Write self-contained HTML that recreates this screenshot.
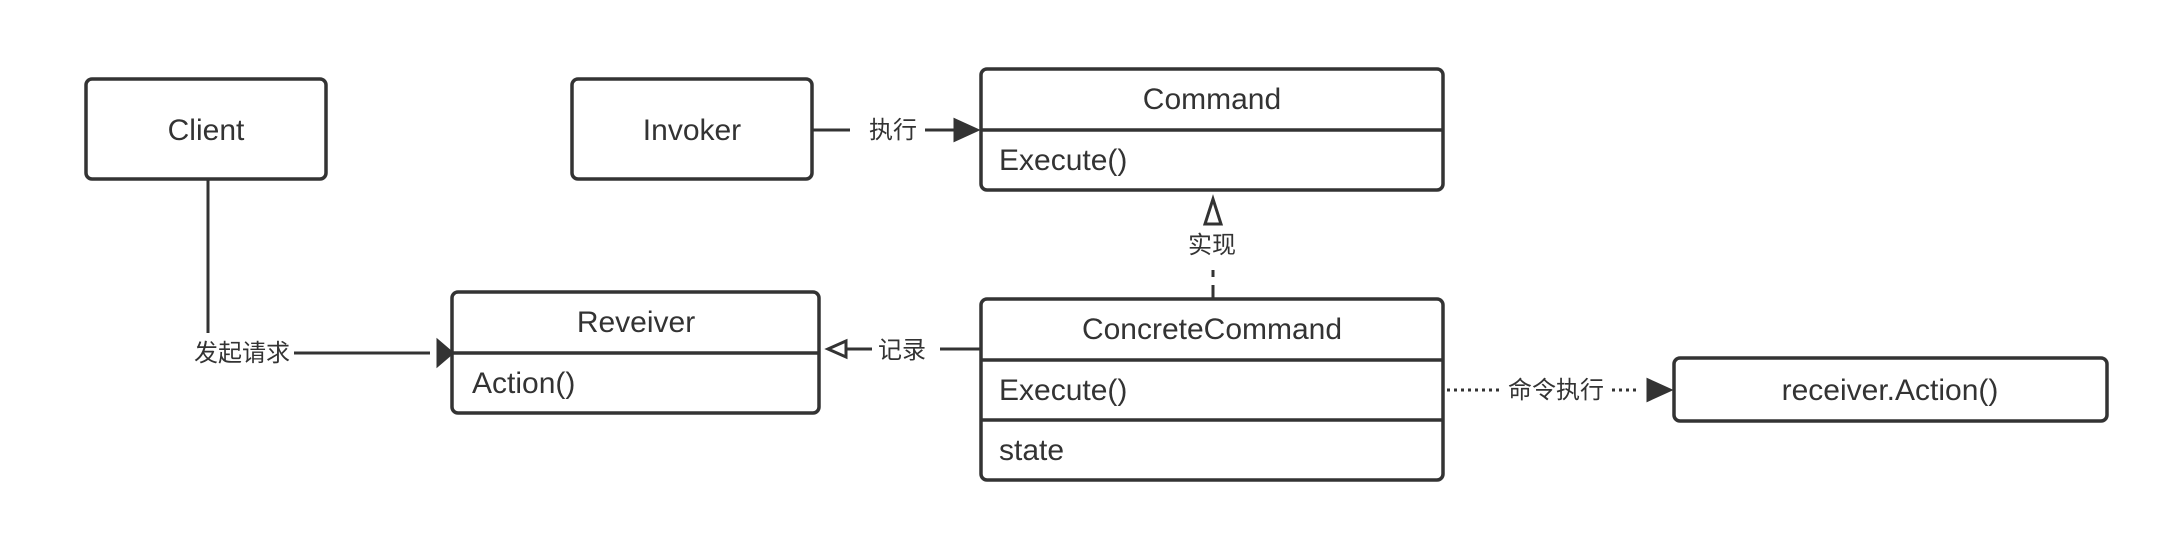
<!DOCTYPE html>
<html><head><meta charset="utf-8"><style>
body{margin:0;background:#fff;}
svg text{font-family:"Liberation Sans","Noto Sans CJK SC",sans-serif;fill:#333;}
</style></head><body>
<svg width="2162" height="532" viewBox="0 0 2162 532" xmlns="http://www.w3.org/2000/svg">
<defs>
<marker id="fill" markerWidth="12" markerHeight="12" refX="11" refY="6" orient="auto" markerUnits="userSpaceOnUse"><path d="M0,0 L12,6 L0,12 z" fill="#333"/></marker>
</defs>
<g fill="#fff" stroke="#333" stroke-width="3.5">
<rect x="86" y="79" width="240" height="100" rx="6"/>
<rect x="572" y="79" width="240" height="100" rx="6"/>
<rect x="981" y="69" width="462" height="121" rx="6"/>
<line x1="981" y1="130" x2="1443" y2="130"/>
<rect x="452" y="292" width="367" height="121" rx="6"/>
<line x1="452" y1="353" x2="819" y2="353"/>
<rect x="981" y="299" width="462" height="181" rx="6"/>
<line x1="981" y1="360" x2="1443" y2="360"/>
<line x1="981" y1="420" x2="1443" y2="420"/>
<rect x="1674" y="358" width="433" height="63" rx="6"/>
</g>
<g stroke="#333" stroke-width="3" fill="none">
<path d="M208 179 V333"/>
<path d="M294 353 H430"/>
<path d="M438 341 L452 353 L438 365 z" fill="#333"/>
<path d="M812 130 H850"/><path d="M925 130 H955"/>
<path d="M955 120 L977 130 L955 140 z" fill="#333"/>
<path d="M1213 299 V270" stroke-dasharray="14,8"/>
<path d="M1213 222 V210"/>
<path d="M1205 224 L1213 199 L1221 224 z" fill="#fff"/>
<path d="M981 349 H940"/><path d="M872 349 H846"/>
<path d="M846 341 L828 349 L846 357 z" fill="#fff"/>
<path d="M1447 390 H1500" stroke-dasharray="3,4"/>
<path d="M1612 390 H1640" stroke-dasharray="3,4"/>
<path d="M1648 380 L1670 390 L1648 400 z" fill="#333"/>
</g>
<g font-size="30" text-anchor="middle">
<text x="206" y="140">Client</text>
<text x="692" y="140">Invoker</text>
<text x="1212" y="109">Command</text>
<text x="636" y="332">Reveiver</text>
<text x="1212" y="339">ConcreteCommand</text>
<text x="1890" y="400">receiver.Action()</text>
</g>
<g font-size="30">
<text x="999" y="170">Execute()</text>
<text x="472" y="393">Action()</text>
<text x="999" y="400">Execute()</text>
<text x="999" y="460">state</text>
</g>
<g font-size="24" text-anchor="middle">
<text x="242" y="361">发起请求</text>
<text x="893" y="138">执行</text>
<text x="1212" y="253">实现</text>
<text x="902" y="358">记录</text>
<text x="1556" y="398">命令执行</text>
</g>
</svg>
</body></html>
